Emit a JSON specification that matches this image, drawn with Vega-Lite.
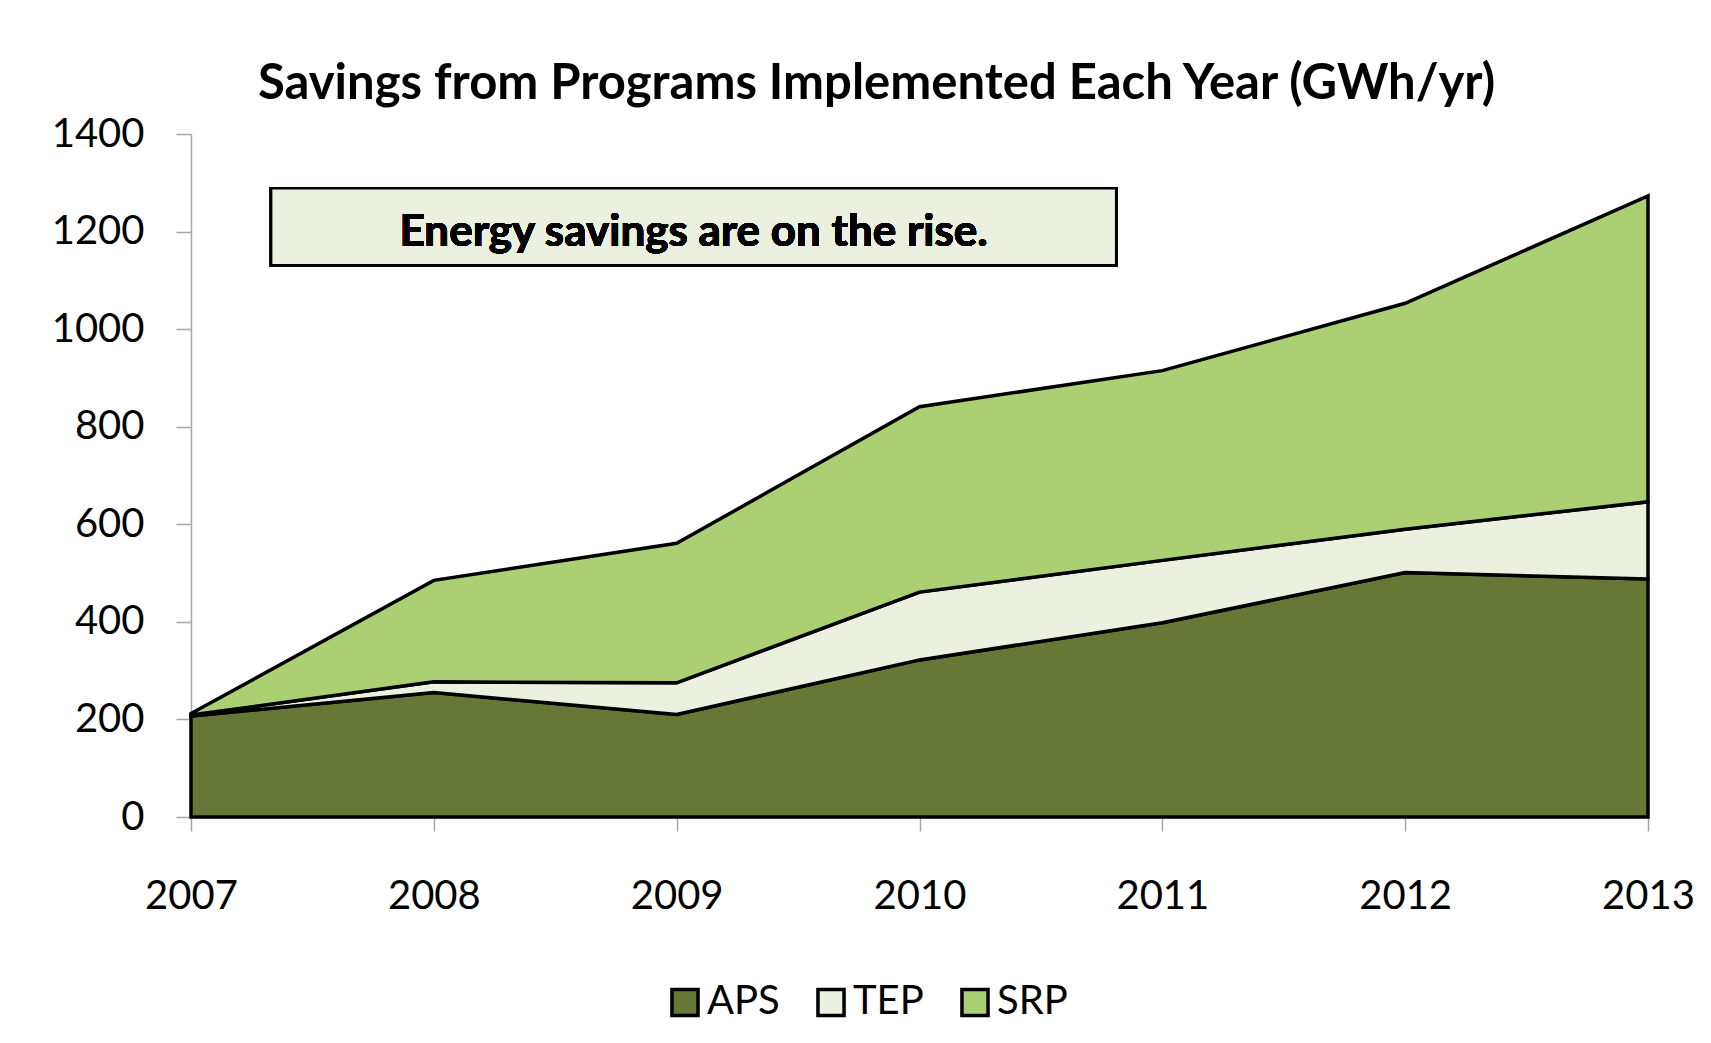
{
  "$schema": "https://vega.github.io/schema/vega-lite/v6.json",
  "width": 1457,
  "height": 683,
  "autosize": {"type": "none"},
  "padding": {"left": 191, "top": 134, "right": 63, "bottom": 226},
  "background": "white",
  "config": {
    "font": "Lato",
    "view": {"stroke": null},
    "axis": {"grid": false, "domainColor": "#A6A6A6", "tickColor": "#A6A6A6", "domainWidth": 1.5, "tickWidth": 1.5, "labelFont": "Lato", "labelFontSize": 40, "labelColor": "#000000", "title": null}
  },
  "title": {
    "text": "Savings from Programs Implemented Each Year (GWh/yr)",
    "font": "Lato",
    "fontSize": 49,
    "fontWeight": "bold",
    "color": "#000000",
    "anchor": "middle",
    "frame": "group",
    "dx": -43,
    "offset": 5
  },
  "data": {
    "values": [
      {"year": 2007, "utility": "APS", "order": 1, "gwh": 207},
      {"year": 2008, "utility": "APS", "order": 1, "gwh": 255},
      {"year": 2009, "utility": "APS", "order": 1, "gwh": 210},
      {"year": 2010, "utility": "APS", "order": 1, "gwh": 322},
      {"year": 2011, "utility": "APS", "order": 1, "gwh": 398},
      {"year": 2012, "utility": "APS", "order": 1, "gwh": 501},
      {"year": 2013, "utility": "APS", "order": 1, "gwh": 488},
      {"year": 2007, "utility": "TEP", "order": 2, "gwh": 2},
      {"year": 2008, "utility": "TEP", "order": 2, "gwh": 22},
      {"year": 2009, "utility": "TEP", "order": 2, "gwh": 65},
      {"year": 2010, "utility": "TEP", "order": 2, "gwh": 139},
      {"year": 2011, "utility": "TEP", "order": 2, "gwh": 128},
      {"year": 2012, "utility": "TEP", "order": 2, "gwh": 89},
      {"year": 2013, "utility": "TEP", "order": 2, "gwh": 158},
      {"year": 2007, "utility": "SRP", "order": 3, "gwh": 3},
      {"year": 2008, "utility": "SRP", "order": 3, "gwh": 208},
      {"year": 2009, "utility": "SRP", "order": 3, "gwh": 286},
      {"year": 2010, "utility": "SRP", "order": 3, "gwh": 380},
      {"year": 2011, "utility": "SRP", "order": 3, "gwh": 389},
      {"year": 2012, "utility": "SRP", "order": 3, "gwh": 463},
      {"year": 2013, "utility": "SRP", "order": 3, "gwh": 627}
    ]
  },
  "layer": [
    {
      "mark": {"type": "area", "stroke": "#000000", "strokeWidth": 3.5, "strokeJoin": "miter", "opacity": 1},
      "encoding": {
        "x": {
          "field": "year",
          "type": "quantitative",
          "scale": {"domain": [2007, 2013], "nice": false, "zero": false},
          "axis": {"values": [2007, 2008, 2009, 2010, 2011, 2012, 2013], "format": "d", "tickSize": 14, "labelPadding": 45, "labelFlush": false}
        },
        "y": {
          "field": "gwh",
          "type": "quantitative",
          "stack": "zero",
          "scale": {"domain": [0, 1400], "nice": false},
          "axis": {"values": [0, 200, 400, 600, 800, 1000, 1200, 1400], "format": "d", "tickSize": 15, "labelPadding": 32}
        },
        "order": {"field": "order", "type": "quantitative", "sort": "ascending"},
        "color": {
          "field": "utility",
          "type": "nominal",
          "sort": ["APS", "TEP", "SRP"],
          "scale": {"domain": ["APS", "TEP", "SRP"], "range": ["#677735", "#EBF1DE", "#ABD073"]},
          "legend": {
            "title": null,
            "orient": "none",
            "direction": "horizontal",
            "legendX": 474,
            "legendY": 848,
            "symbolType": "square",
            "symbolSize": 680,
            "symbolStrokeColor": "#000000",
            "symbolStrokeWidth": 3.5,
            "symbolOpacity": 1,
            "labelFontSize": 40,
            "labelFont": "Lato",
            "labelColor": "#000000",
            "labelOffset": 2,
            "columnPadding": 30
          }
        }
      }
    },
    {
      "mark": {"type": "rect", "fill": "#EBF1DE", "stroke": "#000000", "strokeWidth": 2.5},
      "encoding": {
        "x": {"datum": 2007.33},
        "x2": {"datum": 2010.81},
        "y": {"datum": 1289},
        "y2": {"datum": 1131}
      }
    },
    {
      "mark": {"type": "text", "text": "Energy savings are on the rise.", "font": "Lato", "fontSize": 44, "fontWeight": "bold", "color": "#000000", "align": "center", "baseline": "middle"},
      "encoding": {
        "x": {"datum": 2009.07},
        "y": {"datum": 1198}
      }
    }
  ]
}
